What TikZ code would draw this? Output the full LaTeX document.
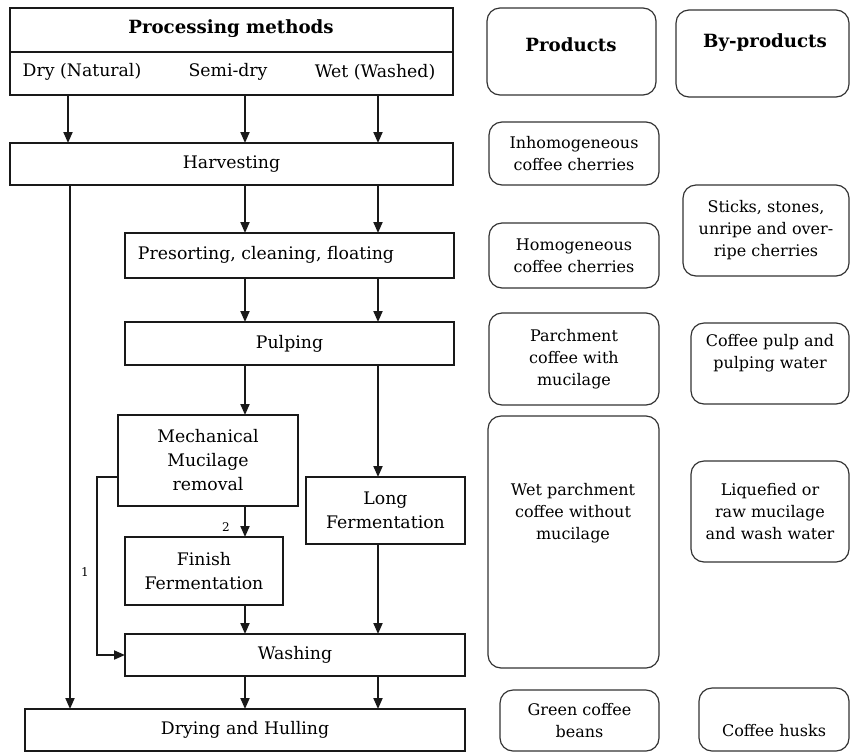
\documentclass[tikz,border=0pt]{standalone}
\usepackage{fontspec}
\setmainfont{DejaVu Serif}
\usetikzlibrary{arrows.meta}
\newcommand{\mybox}[7]{\node[#1, minimum width={#4pt-#2pt}, minimum height={#5pt-#3pt}] (#6) at ({(#2+#4)/2},{(#3+#5)/2}) {#7};}
\begin{document}
\begin{tikzpicture}[x=1pt,y=-1pt,
  box/.style={draw=black!90, line width=1.4pt, inner sep=0pt, outer sep=0pt, align=center, font=\fontsize{17.3}{24}\selectfont},
  rbox/.style={box, rounded corners=13pt, line width=1.2pt, draw=black!80, font=\fontsize{16}{22}\selectfont},
  txt/.style={inner sep=0pt, align=center, font=\fontsize{17.3}{24}\selectfont},
  rtxt/.style={inner sep=0pt, align=center, font=\fontsize{16}{22}\selectfont},
  btxt/.style={inner sep=0pt, align=center, font=\fontsize{18.2}{24}\selectfont\bfseries},
  arr/.style={line width=1.9pt, draw=black!90, -{Triangle[length=11pt,width=9pt]}},
  num/.style={inner sep=0pt, font=\fontsize{12}{14}\selectfont}
]
\useasboundingbox (0,0) rectangle (850,753);
% process column
\mybox{box}{10}{8}{453}{52}{pmt}{}
\node[btxt] (pmtt) at (231,29) {Processing methods};
\mybox{box}{10}{52}{453}{95}{pmb}{}
\node[txt] (dryt) at (82,72) {Dry (Natural)};
\node[txt] (semit) at (228,72) {Semi-dry};
\node[txt] (wett) at (375,72) {Wet (Washed)};
\mybox{box}{10}{143}{453}{185}{harv}{Harvesting}
\mybox{box}{125}{233}{454}{278}{pres}{}
\node[txt] (prest) at (266,255) {Presorting, cleaning, floating};
\mybox{box}{125}{322}{454}{365}{pulp}{Pulping}
\mybox{box}{118}{415}{298}{506}{mech}{Mechanical\\Mucilage\\removal}
\mybox{box}{306}{477}{465}{544}{longf}{Long\\Fermentation}
\mybox{box}{125}{537}{283}{605}{finf}{Finish\\Fermentation}
\mybox{box}{125}{634}{465}{676}{wash}{Washing}
\mybox{box}{25}{709}{465}{751}{dry}{Drying and Hulling}
% guide coordinates
\coordinate (c0) at (70,0);
\coordinate (c1) at (68,0);
\coordinate (c2) at (245,0);
\coordinate (c3) at (378,0);
\coordinate (c4) at (97,0);
\coordinate (r1) at (0,477);
% arrows
\draw[arr] (c1 |- pmb.south) -- (c1 |- harv.north);
\draw[arr] (c2 |- pmb.south) -- (c2 |- harv.north);
\draw[arr] (c3 |- pmb.south) -- (c3 |- harv.north);
\draw[arr] (c2 |- harv.south) -- (c2 |- pres.north);
\draw[arr] (c3 |- harv.south) -- (c3 |- pres.north);
\draw[arr] (c2 |- pres.south) -- (c2 |- pulp.north);
\draw[arr] (c3 |- pres.south) -- (c3 |- pulp.north);
\draw[arr] (c2 |- pulp.south) -- (c2 |- mech.north);
\draw[arr] (c3 |- pulp.south) -- (c3 |- longf.north);
\draw[arr] (c2 |- mech.south) -- (c2 |- finf.north);
\draw[arr] (c2 |- finf.south) -- (c2 |- wash.north);
\draw[arr] (c3 |- longf.south) -- (c3 |- wash.north);
\draw[arr] (c2 |- wash.south) -- (c2 |- dry.north);
\draw[arr] (c3 |- wash.south) -- (c3 |- dry.north);
\draw[arr] (c0 |- harv.south) -- (c0 |- dry.north);
\draw[arr] (mech.west |- r1) -- (c4 |- r1) -- (c4 |- wash.west) -- (wash.west);
\node[num] (n1) at (85,572) {1};
\node[num] (n2) at (226,527) {2};
% products column
\mybox{rbox}{487}{8}{656}{95}{prod}{}
\node[btxt] (prodt) at (571,45) {Products};
\mybox{rbox}{489}{122}{659}{185}{inhom}{Inhomogeneous\\coffee cherries}
\mybox{rbox}{489}{223}{659}{288}{hom}{Homogeneous\\coffee cherries}
\mybox{rbox}{489}{313}{659}{405}{parch}{Parchment\\coffee with\\mucilage}
\mybox{rbox}{488}{416}{659}{668}{wetp}{}
\node[rtxt] (wetpt) at (573,513) {Wet parchment\\coffee without\\mucilage};
\mybox{rbox}{500}{690}{659}{751}{green}{Green coffee\\beans}
% by-products column
\mybox{rbox}{676}{10}{849}{97}{byp}{}
\node[btxt] (bypt) at (765,43) {By-products};
\mybox{rbox}{683}{185}{849}{276}{sticks}{Sticks, stones,\\unripe and over-\\ripe cherries}
\mybox{rbox}{691}{323}{849}{404}{cpulp}{}
\node[rtxt] (cpulpt) at (770,353) {Coffee pulp and\\pulping water};
\mybox{rbox}{691}{461}{849}{562}{liq}{Liquefied or\\raw mucilage\\and wash water}
\mybox{rbox}{699}{688}{849}{751}{husks}{}
\node[rtxt] (huskst) at (774,731) {Coffee husks};
\end{tikzpicture}
\end{document}
